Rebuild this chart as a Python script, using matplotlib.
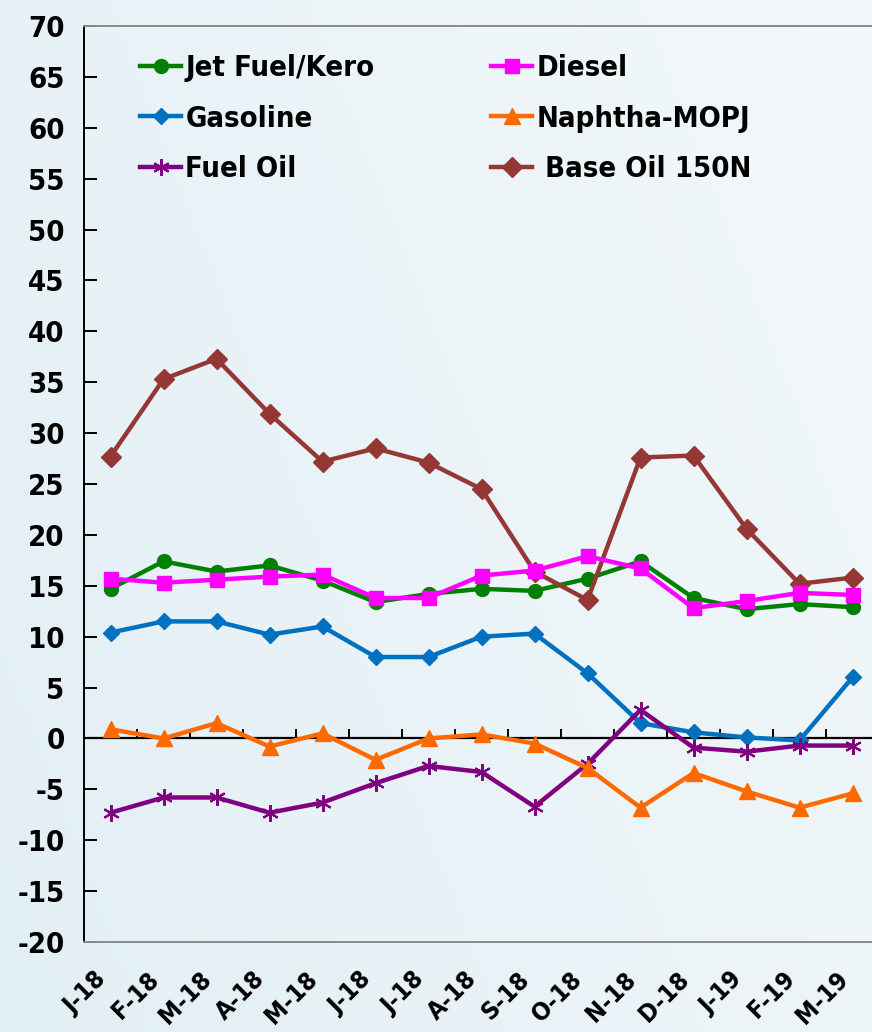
import numpy as np
from matplotlib import pyplot as plt
from matplotlib.colors import LinearSegmentedColormap

months = ["J-18", "F-18", "M-18", "A-18", "M-18", "J-18", "J-18", "A-18",
          "S-18", "O-18", "N-18", "D-18", "J-19", "F-19", "M-19"]

jet_fuel = [14.7, 17.4, 16.4, 17.0, 15.5, 13.4, 14.2, 14.7, 14.5, 15.7, 17.4, 13.8, 12.7, 13.2, 12.9]
diesel = [15.7, 15.3, 15.6, 15.9, 16.1, 13.8, 13.8, 16.0, 16.5, 17.9, 16.7, 12.8, 13.5, 14.3, 14.1]
gasoline = [10.4, 11.5, 11.5, 10.2, 11.0, 8.0, 8.0, 10.0, 10.3, 6.4, 1.5, 0.6, 0.1, -0.2, 6.0]
naphtha = [0.9, 0.0, 1.5, -0.8, 0.5, -2.1, 0.0, 0.4, -0.5, -2.9, -6.8, -3.4, -5.2, -6.8, -5.4]
fuel_oil = [-7.3, -5.8, -5.8, -7.3, -6.3, -4.4, -2.7, -3.3, -6.7, -2.5, 2.8, -0.9, -1.3, -0.7, -0.7]
base_oil = [27.7, 35.3, 37.3, 31.9, 27.2, 28.5, 27.1, 24.5, 16.4, 13.6, 27.6, 27.8, 20.6, 15.2, 15.8]

plt.rcParams['font.family'] = ['DejaVu Sans']
plt.rcParams['font.weight'] = 'bold'
plt.rcParams['font.stretch'] = 'condensed'
plt.rcParams['axes.unicode_minus'] = False

FS = 21

fig = plt.figure(figsize=(8.72, 10.32), dpi=100)
fig.patch.set_facecolor('#E8F3F8')

# soft background gradient
bg = fig.add_axes([0, 0, 1, 1], zorder=-10)
gx, gy = np.meshgrid(np.linspace(0, 1, 200), np.linspace(0, 1, 200))
grad = 0.55 * gx + 0.25 * (1 - gy)
bg.imshow(grad, cmap=LinearSegmentedColormap.from_list('bgc', ['#E2EFF5', '#F3F8FA']),
          aspect='auto', extent=[0, 1, 0, 1])
bg.axis('off')

ax = fig.add_axes([84 / 872, 90 / 1032, 788 / 872, 916 / 1032])
ax.patch.set_alpha(0)

x = np.arange(len(months))
lw = 3.2
ax.plot(x, jet_fuel, color='#008000', lw=lw, marker='o', ms=10, label='Jet Fuel/Kero', zorder=3)
ax.plot(x, gasoline, color='#0070C0', lw=lw, marker='D', ms=8, label='Gasoline', zorder=3)
ax.plot(x, fuel_oil, color='#800080', lw=lw, marker=(6, 2, 0), ms=12, mew=1.5, label='Fuel Oil', zorder=3)
ax.plot(x, diesel, color='#FF00FF', lw=lw, marker='s', ms=10, label='Diesel', zorder=4)
ax.plot(x, naphtha, color='#FF6A00', lw=lw, marker='^', ms=11, label='Naphtha-MOPJ', zorder=3)
ax.plot(x, base_oil, color='#953735', lw=lw, marker='D', ms=10, label=' Base Oil 150N', zorder=3)

# zero line with category separators
ax.axhline(0, color='black', lw=1.6, zorder=2)
ax.vlines(np.arange(0.5, len(months) - 1), 0, 0.9, color='black', lw=1.4, zorder=2)

ax.set_xlim(-0.5, -0.5 + 788 / 53)
ax.set_ylim(-20, 70)
ax.set_yticks(range(-20, 71, 5))
ax.set_xticks(x)
ax.set_xticklabels(months, rotation=45, ha='right', va='top')

ax.tick_params(axis='y', direction='in', length=9, width=1.4, labelsize=FS, pad=14)
ax.tick_params(axis='x', length=0, labelsize=18, pad=18)

ax.spines['right'].set_visible(False)
ax.spines['left'].set_color('black')
ax.spines['left'].set_linewidth(1.4)
ax.spines['top'].set_color('#8A8A8A')
ax.spines['bottom'].set_color('#8A8A8A')
ax.spines['top'].set_linewidth(1.4)
ax.spines['bottom'].set_linewidth(1.4)

ax.legend(loc='upper left', bbox_to_anchor=(0.038, 0.998), ncol=2, frameon=False,
          fontsize=FS, handlelength=1.4, handletextpad=0.15, labelspacing=0.77,
          columnspacing=4.0)

fig.savefig('out.png', dpi=100, facecolor=fig.get_facecolor())
